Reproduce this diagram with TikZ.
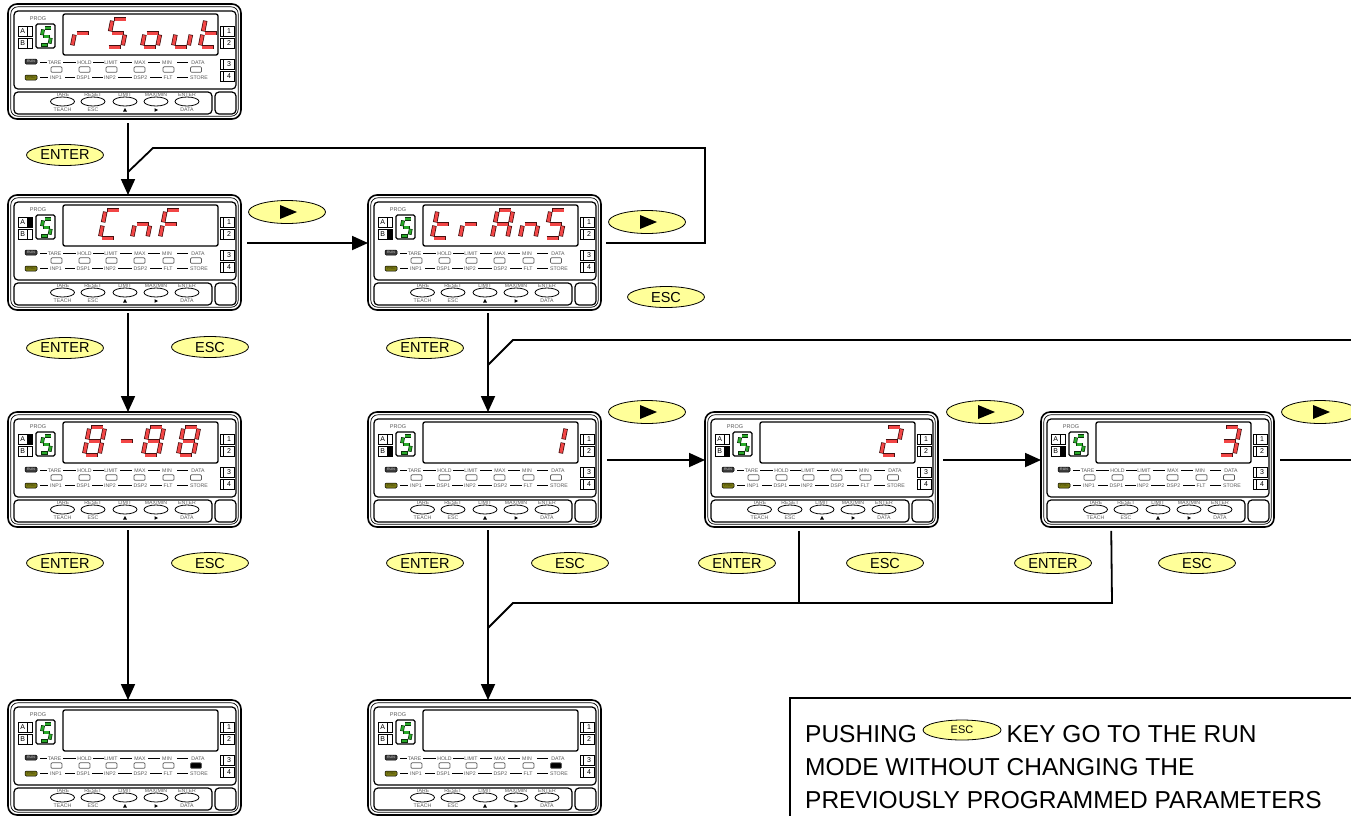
\documentclass[tikz,border=0pt]{standalone}
\usepackage{fontspec}
\setmainfont{Liberation Sans}
\usetikzlibrary{arrows.meta,shapes.geometric,calc}
\definecolor{keyyellow}{RGB}{255,255,153}
\definecolor{segred}{RGB}{242,70,70}
\definecolor{segredo}{RGB}{70,15,15}
\definecolor{seggreen}{RGB}{40,170,40}
\definecolor{seggreeno}{RGB}{10,50,10}
\definecolor{lblgray}{RGB}{90,90,90}
\definecolor{prgolive}{RGB}{120,120,20}
\definecolor{runfill}{RGB}{60,60,60}

\def\sgoc{segredo}\def\sgic{segred}
\def\sgow{4.5pt}\def\sgiw{3pt}\def\sgsh{1.7pt}\def\sgshi{2.4pt}
\def\sgmode{0}
\newcommand\sgline[2]{%
  \ifnum\sgmode=0
    \draw[line width=\sgow, color=\sgoc, shorten <=\sgsh, shorten >=\sgsh] #1 -- #2;
  \else
    \draw[line width=\sgiw, color=\sgic, shorten <=\sgshi, shorten >=\sgshi] #1 -- #2;
  \fi}
\def\sgsega{\sgline{(0,-1)}{(0.55,-1)}}
\def\sgsegb{\sgline{(0.55,-1)}{(0.55,-0.5)}}
\def\sgsegc{\sgline{(0.55,-0.5)}{(0.55,0)}}
\def\sgsegd{\sgline{(0,0)}{(0.55,0)}}
\def\sgsege{\sgline{(0,0)}{(0,-0.5)}}
\def\sgsegf{\sgline{(0,-0.5)}{(0,-1)}}
\def\sgsegg{\sgline{(0,-0.5)}{(0.55,-0.5)}}
\newcommand\digit[4]{%
  \begin{scope}[shift={(#1,#2)},xslant=0.2,scale=#3]
    \def\sgmode{0}\foreach \s in {#4}{\csname sgseg\s\endcsname}
    \def\sgmode{1}\foreach \s in {#4}{\csname sgseg\s\endcsname}
  \end{scope}}
\newcommand\dig[2]{\digit{#1}{43}{28}{#2}}
\newcommand\greenS{{\def\sgoc{seggreeno}\def\sgic{seggreen}\def\sgow{3.8pt}\def\sgiw{2.4pt}\def\sgsh{1.4pt}\def\sgshi{1.9pt}\digit{32}{41}{17}{a,f,g,c,d}}}

\tikzset{
  lbl/.style={font=\fontsize{5.2}{6}\selectfont, text=lblgray, inner sep=0.3pt},
  progtxt/.style={font=\fontsize{5.5}{6}\selectfont, text=lblgray, inner sep=0},
  led/.style={draw=lblgray, line width=0.7pt, rounded corners=1pt, minimum width=11pt, minimum height=5.5pt, inner sep=0, fill=white},
  btn/.style={ellipse, draw, line width=0.8pt, minimum width=24pt, minimum height=9pt, inner sep=0},
  boxlbl/.style={font=\fontsize{7}{8}\selectfont, inner sep=0},
  runbox/.style={draw=black, line width=0.5pt, fill=runfill, rounded corners=1.2pt, minimum width=12pt, minimum height=5pt, inner sep=0, font=\fontsize{3.5}{4}\selectfont, text=white!70!gray},
  prgbox/.style={runbox, fill=prgolive, text=black!50!prgolive},
  panelframe/.style={draw, line width=1.6pt, rounded corners=9pt, minimum width=233pt, minimum height=115pt, inner sep=0},
  key/.style={ellipse, draw, line width=0.8pt, fill=keyyellow, minimum width=77pt, minimum height=21pt, inner sep=0, font=\fontsize{14.5}{16}\selectfont},
  playkey/.style={key, minimum height=23pt},
  conn/.style={line width=1.8pt},
  arr/.style={conn, -{Triangle[length=16pt,width=14pt]}},
  notetxt/.style={font=\fontsize{24.5}{28}\selectfont, inner sep=0}
}

% #1 name, #2 x, #3 y, #4 A fill, #5 B fill, #6 DATA led fill, #7 display digits
\newcommand\panel[7]{%
  \node[panelframe] (#1) at (#2+116.5,#3+57.5) {};
  \begin{scope}[shift={(#2,#3)}]
    \draw[line width=0.7pt, rounded corners=7pt] (2.8,2.8) rectangle (230.2,112.2);
    \draw[line width=1.2pt, rounded corners=4pt] (6,7) rectangle (228,85);
    \draw[line width=1.2pt, rounded corners=4pt] (6,88) rectangle (204,110);
    \draw[line width=1.2pt, rounded corners=4pt] (207,88) rectangle (228,110);
    \draw[line width=1.3pt, rounded corners=2pt] (55,10) rectangle (210,51);
    \draw[line width=1.3pt, rounded corners=1.5pt] (28,20) rectangle (47,44);
    \node[progtxt] (#1-prog) at (30,15) {PROG};
    \fill[#4] (19.5,22) rectangle (24,32);
    \fill[#5] (19.5,34) rectangle (24,44);
    \draw[line width=0.8pt] (10,22) rectangle (24,32) (19.5,22)--(19.5,32)
                            (10,34) rectangle (24,44) (19.5,34)--(19.5,44);
    \node[boxlbl] (#1-A) at (14.7,27) {A};
    \node[boxlbl] (#1-B) at (14.7,39) {B};
    \foreach \yy/\nn in {22/1,34/2,55/3,67/4}{
      \draw[line width=0.8pt] (212,\yy) rectangle (226,\yy+10) (215.5,\yy)--(215.5,\yy+10);
      \node[boxlbl] (#1-n\nn) at (221,\yy+5) {\nn};}
    \node[runbox] (#1-run) at (23,57.5) {RUN};
    \node[prgbox] (#1-prg) at (23,73.5) {PRG};
    \foreach \x/\txt [count=\i] in {46.5/TARE,76.5/HOLD,103/LIMIT,132/MAX,159/MIN,190/DATA}
      \node[lbl] (#1-u\i) at (\x,58.5) {\txt};
    \foreach \x/\txt [count=\i] in {48/INP1,75.5/DSP1,102/INP2,132.5/DSP2,160/FLT,191/STORE}
      \node[lbl] (#1-v\i) at (\x,73.5) {\txt};
    \draw[line width=0.9pt] (32,58.5)--(39,58.5) (55,58.5)--(68,58.5) (85,58.5)--(96,58.5)
       (112,58.5)--(124,58.5) (140,58.5)--(152,58.5) (169,58.5)--(180,58.5);
    \draw[line width=0.9pt] (32,73.5)--(40,73.5) (57,73.5)--(67,73.5) (84,73.5)--(95,73.5)
       (110,73.5)--(124,73.5) (142,73.5)--(154,73.5) (169,73.5)--(180,73.5);
    \foreach \x [count=\i] in {48.5,76.5,103.5,131.5,160.5}
      \node[led] (#1-l\i) at (\x,65.5) {};
    \node[led, fill=#6] (#1-l6) at (188,65.5) {};
    \node[btn] (#1-k1) at (54.5,97.5) {};
    \node[btn] (#1-k2) at (85,97.5) {};
    \node[btn] (#1-k3) at (117,97.5) {};
    \node[btn] (#1-k4) at (148,97.5) {};
    \node[btn] (#1-k5) at (179,97.5) {};
    \node[lbl] (#1-w1) at (54.5,90.5) {TARE};
    \node[lbl] (#1-w2) at (85,90.5) {RESET};
    \node[lbl] (#1-w3) at (117,90.5) {LIMIT};
    \node[lbl] (#1-w4) at (148,90.5) {MAX/MIN};
    \node[lbl] (#1-w5) at (179,90.5) {ENTER};
    \node[lbl] (#1-z1) at (54.5,106) {TEACH};
    \node[lbl] (#1-z2) at (85,106) {ESC};
    \node[lbl] (#1-z5) at (179,106) {DATA};
    \fill (115,107.6)--(119,107.6)--(117,104)--cycle;
    \fill (146.5,104.2)--(146.5,107.8)--(150,106)--cycle;
    \greenS
    #7
    \coordinate (#1-t) at (120,0);
    \coordinate (#1-b) at (120,115);
    \coordinate (#1-l) at (0,48);
    \coordinate (#1-r) at (233,48);
  \end{scope}}

\begin{document}
\begin{tikzpicture}[x=1pt,y=-1pt]
\useasboundingbox (0,0) rectangle (1351,815);
\fill[white] (0,0) rectangle (1351,815);
\clip (0,0) rectangle (1351,815);

% panels
\panel{P1}{8}{4}{white}{white}{white}{%
  \dig{64}{e,g}\dig{99}{a,f,g,c,d}\dig{134}{c,d,e,g}\dig{165}{c,d,e}\dig{192}{d,e,f,g}}
\panel{P2}{8}{195}{black}{white}{white}{%
  \dig{92}{a,d,e,f}\dig{124}{c,e,g}\dig{152}{a,e,f,g}}
\panel{P3}{368}{195}{white}{black}{white}{%
  \dig{64}{d,e,f,g}\dig{92}{e,g}\dig{124}{a,b,c,e,f,g}\dig{152}{c,e,g}\dig{177}{a,f,g,c,d}}
\panel{P7}{8}{412}{black}{white}{white}{%
  \dig{76}{a,b,c,d,e,f,g}\dig{108}{g}\dig{135}{a,b,c,d,e,f,g}\dig{170}{a,b,c,d,e,f,g}}
\panel{P4}{368}{412}{white}{black}{white}{\dig{177}{b,c}}
\panel{P5}{705}{412}{white}{black}{white}{\dig{176}{a,b,g,e,d}}
\panel{P6}{1041}{412}{white}{black}{white}{\dig{178}{a,b,g,c,d}}
\panel{P8}{8}{700}{white}{white}{black}{}
\panel{P9}{368}{700}{white}{white}{black}{}

% keys
\node[key] (en1) at (65,155) {ENTER};
\node[key] (en2) at (65,348) {ENTER};
\node[key] (es2) at (210,347) {ESC};
\node[playkey] (pl1) at (287,212) {};
\node[playkey] (pl2) at (647,222) {};
\node[key] (es3) at (666,297) {ESC};
\node[key] (en3) at (425,348) {ENTER};
\node[playkey] (pl3) at (647,412) {};
\node[playkey] (pl4) at (985,412) {};
\node[playkey] (pl5) at (1320,412) {};
\node[key] (en7) at (65,563) {ENTER};
\node[key] (es7) at (210,563) {ESC};
\node[key] (en4) at (425,563) {ENTER};
\node[key] (es4) at (570,563) {ESC};
\node[key] (en5) at (737,563) {ENTER};
\node[key] (es5) at (885,563) {ESC};
\node[key] (en6) at (1053,563) {ENTER};
\node[key] (es6) at (1197,563) {ESC};
\foreach \k in {pl1,pl2,pl3,pl4,pl5}
  \fill[shift={(\k.center)}] (-7,-7)--(-7,7)--(10,0)--cycle;

% connectors
\coordinate (loopA) at (705,148);
\coordinate (loopB) at (153,148);
\coordinate (loopC) at (128,172);
\coordinate (rA) at (1351,340);
\coordinate (rB) at (513,340);
\coordinate (rC) at (488,365);
\coordinate (eR) at (1351,460);
\coordinate (b5) at ($(P5.south west)+(95,0)$);
\coordinate (b6) at ($(P6.south west)+(71,0)$);
\coordinate (bh6) at (1112,603);
\coordinate (bh) at (513,603);
\coordinate (bj) at (488,628);

\draw[arr, shorten <=4pt] (P1-b) -- (P2-t);
\draw[arr, shorten <=6pt] (P2-r) -- (P3-l);
\draw[conn, shorten <=5pt] (P3-r) -| (loopA) -- (loopB) -- (loopC);
\draw[arr, shorten <=3pt] (P2-b) -- (P7-t);
\draw[arr, shorten <=3pt] (P7-b) -- (P8-t);
\draw[arr, shorten <=3pt] (P3-b) -- (P4-t);
\draw[conn] (rA) -- (rB) -- (rC);
\draw[arr, shorten <=6pt] (P4-r) -- (P5-l);
\draw[arr, shorten <=5pt] (P5-r) -- (P6-l);
\draw[conn, shorten <=6pt] (P6-r) -- (eR);
\draw[arr, shorten <=3pt] (P4-b) -- (P9-t);
\draw[conn, shorten <=3pt] (b6) -- (bh6) -- (bh) -- (bj);
\draw[conn, shorten <=3pt] (b5) -- (b5 |- bh);

% note box
\draw[line width=1.5pt] (790,698) rectangle (1400,900);
\node[notetxt, anchor=base west] (note1) at (805,742) {PUSHING};
\node[key, minimum width=78pt, minimum height=20pt, font=\fontsize{11}{12}\selectfont] (noteesc) at ($(note1.base east)+(45,-12)$) {ESC};
\node[notetxt, anchor=base west] (note1b) at ([xshift=5pt]noteesc.east |- note1.base) {KEY GO TO THE RUN};
\node[notetxt, anchor=base west] (note2) at (805,775) {MODE WITHOUT CHANGING THE};
\node[notetxt, anchor=base west] (note3) at (805,808) {PREVIOUSLY PROGRAMMED PARAMETERS};
\end{tikzpicture}
\end{document}
